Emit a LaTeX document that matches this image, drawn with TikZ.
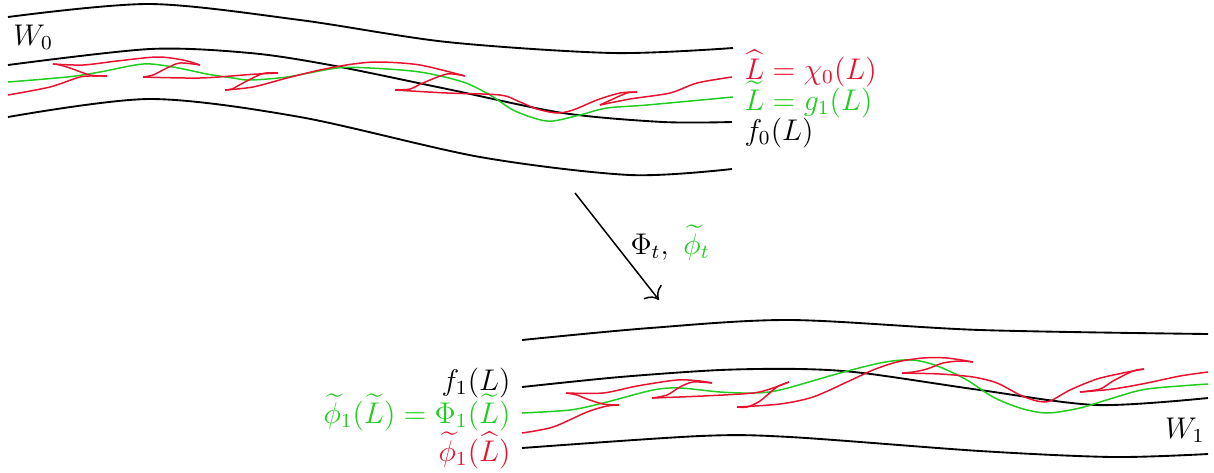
\documentclass[tikz,border=0pt]{standalone}
\usepackage{xcolor}
\usepackage{amsmath,amssymb}
\usepackage{tikz}
\usetikzlibrary{arrows.meta,positioning,calc}
\definecolor{ink}{HTML}{000000}
\definecolor{hatred}{HTML}{E5132F}
\definecolor{tildegreen}{HTML}{22CC22}
\tikzset{
  wallline/.style={line width=0.75pt,color=ink},
  hatline/.style={line width=0.6pt,color=hatred},
  tildeline/.style={line width=0.6pt,color=tildegreen},
  maparr/.style={-{To[scale=1.5]},line width=0.6pt,color=ink},
  maplabel/.style={inner sep=0pt,text=ink,font=\large},
}

\begin{document}
\begin{tikzpicture}[x=0.0141cm, y=-0.0141cm]
  \useasboundingbox (0,0) rectangle (1214,472);

  % upper sheet W_0
  \draw[wallline] plot[smooth] coordinates {(8,17) (150,4) (300,20) (447,42) (613,53) (733,48)};
  \draw[wallline] plot[smooth] coordinates {(8,65) (150,49) (250,53) (330,65) (447,89) (563,113) (663,122) (732,122)};
  \draw[wallline] plot[smooth] coordinates {(8,117) (150,99) (300,117) (480,157) (630,175) (732,169)};

  \draw[tildeline] plot[smooth] coordinates {(8,82) (67,77) (100,72) (143,64) (173,67) (207,74) (233,78) (250,80) (287,77) (337,68) (370,68) (420,72) (463,82) (490,95) (513,110) (537,119) (553,121) (580,115) (607,108) (647,105) (733,97)};

  \draw[hatline] plot[smooth] coordinates {(8,95) (50,87) (80,77) (97,76) (107,76)};
  \draw[hatline] plot[smooth] coordinates {(107,76) (90,75) (70,68) (60,65) (53,64)};
  \draw[hatline] plot[smooth] coordinates {(53,64) (83,65) (117,61) (157,57) (183,60) (200,65)};
  \draw[hatline] plot[smooth] coordinates {(200,65) (180,63) (167,68) (153,75) (143,77)};
  \draw[hatline] plot[smooth] coordinates {(143,77) (200,78) (250,74.5) (278,73)};
  \draw[hatline] plot[smooth] coordinates {(278,73) (263,73.5) (243,83) (232,89) (225,90)};
  \draw[hatline] plot[smooth] coordinates {(225,90) (253,87) (287,78) (320,70) (353,64) (380,62) (420,65) (465,76)};
  \draw[hatline] plot[smooth] coordinates {(465,76) (447,74) (423,83) (410,89) (395,90)};
  \draw[hatline] plot[smooth] coordinates {(395,90) (447,93) (500,95) (520,102) (537,109) (557,113) (573,110) (597,100) (620,93) (637,92)};
  \draw[hatline] plot[smooth] coordinates {(637,92) (627,93) (613,99) (600,105)};
  \draw[hatline] plot[smooth] coordinates {(600,105) (630,99) (670,93) (697,83) (732,77)};

  \node[maplabel,anchor=base west] (w0) at (13,45) {$W_0$};
  \node[maplabel,anchor=base west,text=hatred] (lhat) at (744,79) {$\widehat{L}=\chi_0(L)$};
  \node[maplabel,anchor=base west,text=tildegreen] (ltilde) at (744,110) {$\widetilde{L}=g_1(L)$};
  \node[maplabel,anchor=base west] (f0) at (744,140) {$f_0(L)$};

  % the map
  \coordinate (mapstart) at (575,193);
  \coordinate (mapend) at (659,300);
  \draw[maparr] (mapstart) -- (mapend);
  \node[maplabel,anchor=base west] (phi) at (630,254) {$\Phi_t,\ \textcolor{tildegreen}{\widetilde{\phi}_t}$};

  % lower sheet W_1
  \draw[wallline] plot[smooth] coordinates {(522,340) (650,328) (790,320) (980,330) (1208,334)};
  \draw[wallline] plot[smooth] coordinates {(522,387) (620,377) (720,370) (800,369) (863,373) (980,390) (1097,405) (1208,398)};
  \draw[wallline] plot[smooth] coordinates {(522,448) (700,436) (790,437) (980,451) (1113,457) (1208,454)};

  \draw[tildeline] plot[smooth] coordinates {(522,413) (570,410) (603,403) (653,390) (680,388) (720,392) (753,393) (780,390) (840,373) (880,363) (903,360) (920,361) (940,367) (967,380) (993,397) (1020,408) (1047,413) (1080,408) (1113,398) (1147,389) (1208,384)};

  \draw[hatline] plot[smooth] coordinates {(522,433) (553,427) (587,412) (607,406) (619,405)};
  \draw[hatline] plot[smooth] coordinates {(619,405) (603,404) (587,399) (577,395) (566,393)};
  \draw[hatline] plot[smooth] coordinates {(566,393) (603,393) (637,386) (677,380) (700,381) (712,383)};
  \draw[hatline] plot[smooth] coordinates {(712,383) (693,382) (680,387) (667,395) (652,398)};
  \draw[hatline] plot[smooth] coordinates {(652,398) (703,396) (753,393) (773,388) (789,382)};
  \draw[hatline] plot[smooth] coordinates {(789,382) (777,387) (760,401) (747,407) (737,407)};
  \draw[hatline] plot[smooth] coordinates {(737,407) (780,404) (813,397) (847,382) (873,370) (897,362) (923,358) (947,358) (973,362)};
  \draw[hatline] plot[smooth] coordinates {(973,362) (960,361) (943,363) (927,369) (913,372) (902,373)};
  \draw[hatline] plot[smooth] coordinates {(902,373) (940,374) (973,377) (997,383) (1020,395) (1037,401) (1050,401) (1070,390) (1097,379) (1123,373) (1144,369)};
  \draw[hatline] plot[smooth] coordinates {(1144,369) (1133,371) (1113,381) (1100,389) (1080,392)};
  \draw[hatline] plot[smooth] coordinates {(1080,392) (1113,389) (1147,383) (1180,376) (1208,372)};

  \node[maplabel,anchor=base east] (w1) at (1205,438) {$W_1$};
  \node[maplabel,anchor=base east] (f1) at (511,390) {$f_1(L)$};
  \node[maplabel,anchor=base east,text=tildegreen] (phil) at (511,423) {$\widetilde{\phi}_1(\widetilde{L})=\Phi_1(\widetilde{L})$};
  \node[maplabel,anchor=base east,text=hatred] (phihat) at (511,461) {$\widetilde{\phi}_1(\widehat{L})$};
\end{tikzpicture}
\end{document}
